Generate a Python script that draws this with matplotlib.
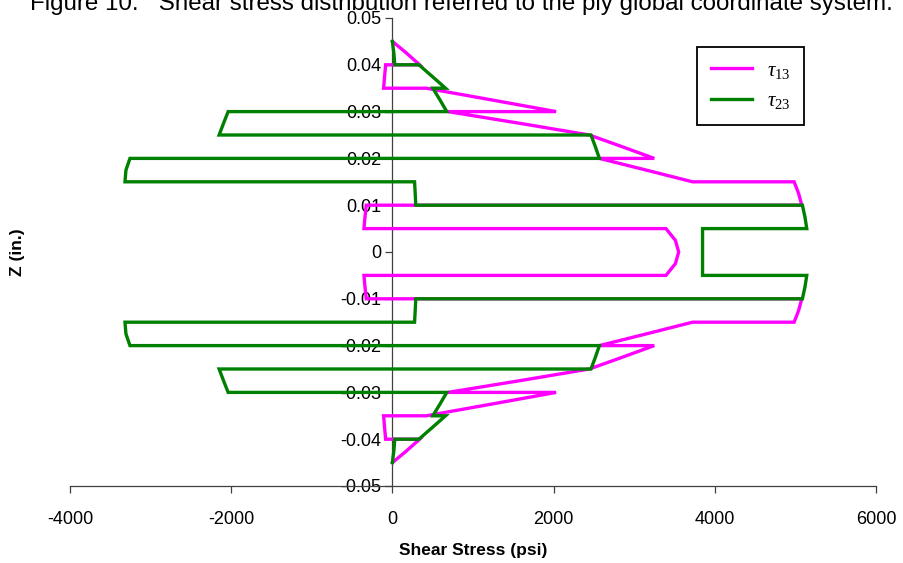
import matplotlib
matplotlib.use('Agg')
import matplotlib.pyplot as plt

plt.rcParams['font.family'] = ['Liberation Sans', 'DejaVu Sans']
plt.rcParams['mathtext.fontset'] = 'custom'
plt.rcParams['mathtext.rm'] = 'Liberation Serif'
plt.rcParams['mathtext.it'] = 'Liberation Serif:italic'

# through-thickness positions (top, mid, bottom of each ply)
z_points = [
    0.045, 0.0425, 0.040,
    0.040, 0.0375, 0.035,
    0.035, 0.0325, 0.030,
    0.030, 0.0275, 0.025,
    0.025, 0.0225, 0.020,
    0.020, 0.0175, 0.015,
    0.015, 0.0125, 0.010,
    0.010, 0.0075, 0.005,
    0.005, 0.0025, 0.000,
    0.000, -0.0025, -0.005,
    -0.005, -0.0075, -0.010,
    -0.010, -0.0125, -0.015,
    -0.015, -0.0175, -0.020,
    -0.020, -0.0225, -0.025,
    -0.025, -0.0275, -0.030,
    -0.030, -0.0325, -0.035,
    -0.035, -0.0375, -0.040,
    -0.040, -0.0425, -0.045,
]

tau13 = [
    0, 175, 337,
    -84, -97, -109,
    420, 1230, 2031,
    688, 1580, 2444,
    2444, 2850, 3249,
    2568, 3150, 3724,
    4984, 5040, 5079,
    -324, -340, -353,
    3394, 3511, 3552,
    3552, 3511, 3394,
    -353, -340, -324,
    5079, 5040, 4984,
    3724, 3150, 2568,
    3249, 2850, 2444,
    2444, 1580, 688,
    2031, 1230, 420,
    -109, -97, -84,
    337, 175, 0,
]

tau23 = [
    0, 18, 30,
    329, 495, 659,
    502, 590, 675,
    -2038, -2095, -2150,
    2464, 2518, 2568,
    -3256, -3306, -3318,
    275, 283, 290,
    5087, 5118, 5141,
    3848, 3848, 3848,
    3848, 3848, 3848,
    5141, 5118, 5087,
    290, 283, 275,
    -3318, -3306, -3256,
    2568, 2518, 2464,
    -2150, -2095, -2038,
    675, 590, 502,
    659, 495, 329,
    30, 18, 0,
]

x_ticks = [-4000, -2000, 0, 2000, 4000, 6000]
y_ticks = [-0.05, -0.04, -0.03, -0.02, -0.01, 0, 0.01, 0.02, 0.03, 0.04, 0.05]
y_ticklabels = ['-0.05', '-0.04', '-0.03', '-0.02', '-0.01', '0',
                '0.01', '0.02', '0.03', '0.04', '0.05']

W, H = 904, 563
fig = plt.figure(figsize=(W / 100, H / 100), dpi=100)
ax = fig.add_axes([70 / W, (H - 486) / H, 806 / W, 468 / H])

ax.plot(tau13, z_points, color='#FF00FF', lw=2.4, solid_joinstyle='miter', label=r'$\tau_{13}$', zorder=3)
ax.plot(tau23, z_points, color='#008000', lw=2.4, solid_joinstyle='miter', label=r'$\tau_{23}$', zorder=4)

ax.set_xlim(-4000, 6000)
ax.set_ylim(-0.05, 0.05)
ax.set_xticks(x_ticks)
ax.set_xticklabels([str(t) for t in x_ticks])
ax.set_yticks(y_ticks)
ax.set_yticklabels(y_ticklabels)

ax.spines['top'].set_visible(False)
ax.spines['right'].set_visible(False)
ax.spines['left'].set_position(('data', 0))
ax.spines['left'].set_color('#404040')
ax.spines['bottom'].set_color('#404040')
ax.spines['left'].set_linewidth(0.9)
ax.spines['bottom'].set_linewidth(0.9)
ax.spines['left'].set_zorder(1)
ax.tick_params(axis='both', direction='out', length=5, width=0.9, color='#404040',
               labelsize=13)
ax.tick_params(axis='x', pad=13)
ax.tick_params(axis='y', pad=3)

ax.set_xlabel('Shear Stress (psi)', fontsize=12.5, fontweight='bold', labelpad=11)
fig.text(18 / W, 1 - 252 / H, 'Z (in.)', rotation=90, fontsize=12.5, fontweight='bold',
         ha='center', va='center')

fig.text(461 / W, 1 - 10 / H,
         'Figure 10.   Shear stress distribution referred to the ply global coordinate system.',
         fontsize=17.4, ha='center', va='baseline')

leg = ax.legend(loc='upper left', bbox_to_anchor=(697 / W, 1 - 47 / H),
                bbox_transform=fig.transFigure, frameon=True, fancybox=False,
                edgecolor='black', framealpha=1, fontsize=15, handlelength=2.0,
                handletextpad=0.7, borderpad=0.65, labelspacing=0.5, borderaxespad=0)
leg.get_frame().set_linewidth(1.3)
leg.set_zorder(10)

fig.savefig('out.png', dpi=100)
